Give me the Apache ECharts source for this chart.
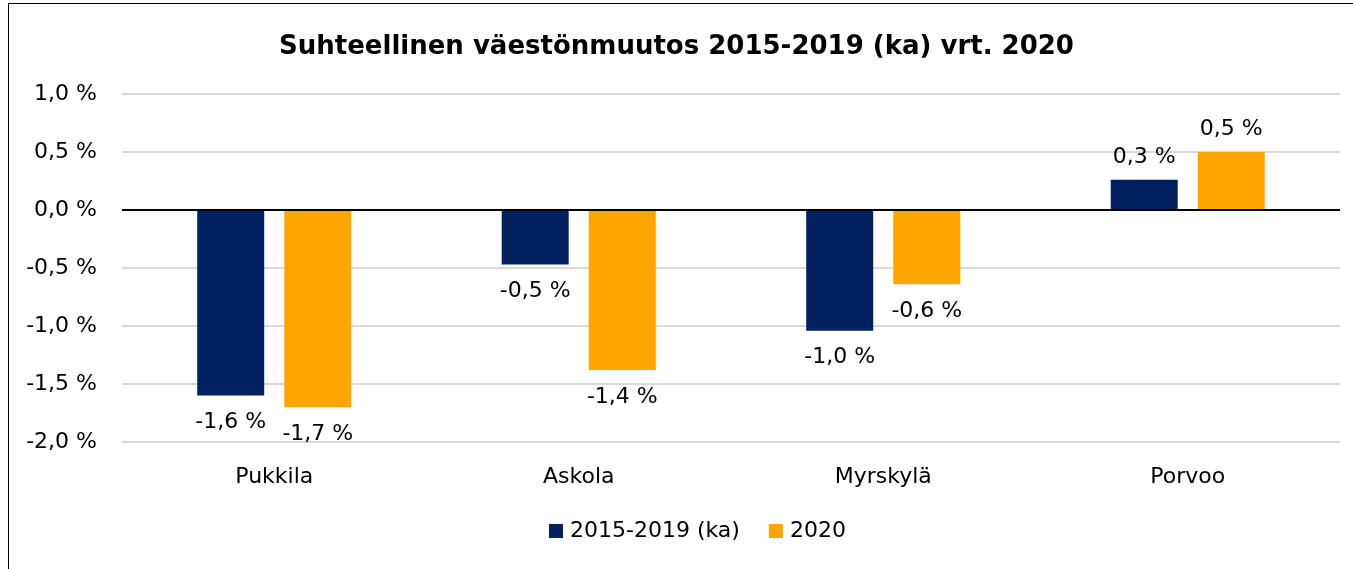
<!DOCTYPE html>
<html>
<head>
<meta charset="utf-8">
<script src="https://cdn.jsdelivr.net/npm/echarts@6/dist/echarts.min.js"></script>
<style>
  html, body { margin: 0; padding: 0; background: #fff; overflow: hidden; }
  #frame { position: absolute; left: 8px; top: 3px; width: 1400px; height: 600px; border: 1.5px solid #000; }
  #chart { position: absolute; left: 0; top: 0; width: 1353px; height: 569px; }
</style>
</head>
<body>
<div id="frame"></div>
<div id="chart"></div>
<script>
// kunnat
var categories = ["Pukkila", "Askola", "Myrskylä", "Porvoo"];
// suhteellinen väestönmuutos, %
var avg2015_2019 = [-1.6, -0.47, -1.04, 0.26];
var year2020 = [-1.7, -1.38, -0.64, 0.5];
// y-akselin rajat
var yMin = -2.0;
var yMax = 1.0;
var yStep = 0.5;

var FONT = "DejaVu Sans";

function fmt(v) {
  return v.toFixed(1).replace(".", ",") + " %";
}

// label ylös tai alas arvon merkin mukaan
function withLabels(arr) {
  return arr.map(function (v) {
    return { value: v, label: { position: v >= 0 ? "top" : "bottom", distance: v >= 0 ? 12 : 16 } };
  });
}

var myChart = echarts.init(document.getElementById("chart"));
var option = {
  animation: false,
  title: {
    text: "Suhteellinen väestönmuutos 2015-2019 (ka) vrt. 2020",
    left: "center",
    top: 29,
    textStyle: { fontFamily: FONT, fontSize: 26, fontWeight: "bold", color: "#000" }
  },
  legend: {
    bottom: 22,
    left: 544,
    itemWidth: 14,
    itemHeight: 14,
    itemGap: 29,
    icon: "rect",
    textStyle: { fontFamily: FONT, fontSize: 22, color: "#000", padding: [0, 0, 0, 2] },
    data: ["2015-2019 (ka)", "2020"]
  },
  grid: { left: 122, right: 13, top: 94, bottom: 127 },
  xAxis: {
    type: "category",
    data: categories,
    axisLine: { show: false },
    axisTick: { show: false },
    axisLabel: { fontFamily: FONT, fontSize: 22, color: "#000", margin: 24 }
  },
  yAxis: {
    type: "value",
    min: yMin,
    max: yMax,
    interval: yStep,
    axisLine: { show: false },
    axisTick: { show: false },
    splitLine: { lineStyle: { color: "#d9d9d9", width: 2 } },
    axisLabel: {
      fontFamily: FONT, fontSize: 22, color: "#000", margin: 25,
      formatter: function (v) { return fmt(v); }
    }
  },
  series: [
    {
      name: "2015-2019 (ka)",
      type: "bar",
      data: withLabels(avg2015_2019),
      barWidth: "22%",
      barGap: "30%",
      itemStyle: { color: "#002060" },
      label: {
        show: true,
        fontFamily: FONT, fontSize: 22, color: "#000",
        formatter: function (p) { return fmt(p.value); }
      },
      markLine: {
        silent: true, symbol: "none", label: { show: false },
        lineStyle: { color: "#000", width: 2, type: "solid" },
        data: [{ yAxis: 0 }]
      }
    },
    {
      name: "2020",
      type: "bar",
      data: withLabels(year2020),
      barWidth: "22%",
      itemStyle: { color: "#ffa500" },
      label: {
        show: true,
        fontFamily: FONT, fontSize: 22, color: "#000",
        formatter: function (p) { return fmt(p.value); }
      }
    }
  ]
};
myChart.setOption(option);
</script>
</body>
</html>
